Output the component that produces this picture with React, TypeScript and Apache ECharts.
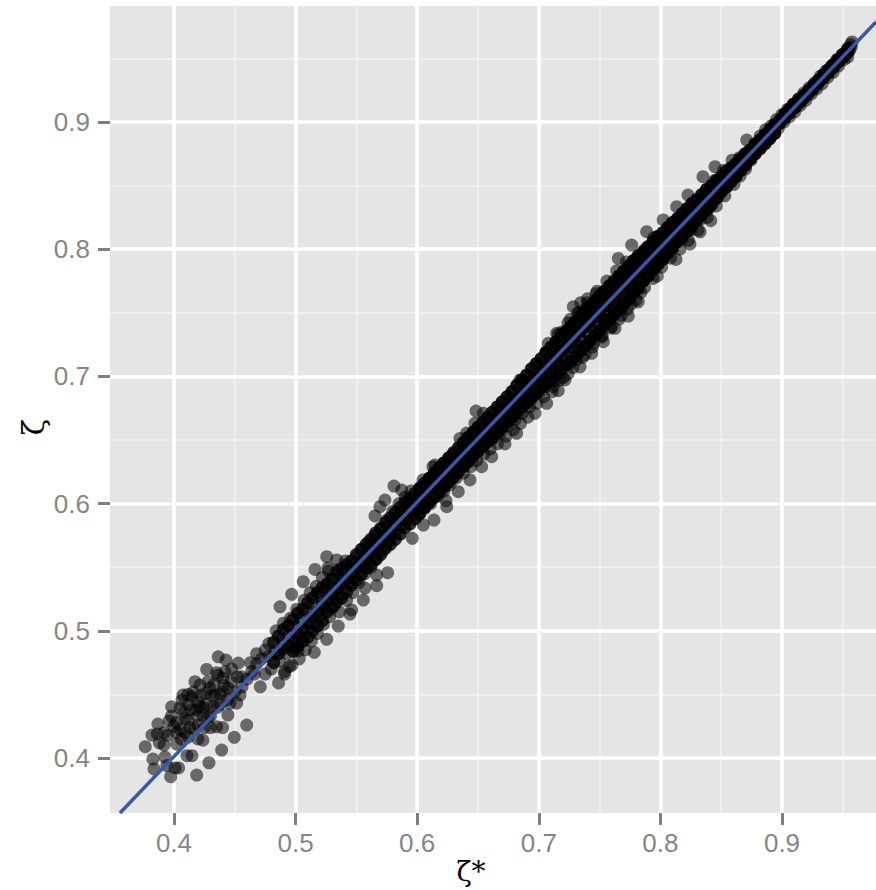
import React, { useEffect, useRef } from "react";
import * as echarts from "echarts";

const tickValues = [0.4, 0.5, 0.6, 0.7, 0.8, 0.9];
const minorXValues = [0.45, 0.55, 0.65, 0.75, 0.85, 0.95];
const minorYValues = [0.45, 0.55, 0.65, 0.75, 0.85, 0.95];
const fitLine = [[0.3556, 0.3568], [0.9773, 0.9786]];

// [x, y] pairs
const tailPoints = [
  [.3764,.4089],[.3827,.3992],[.3836,.3914],[.3973,.3853],[.4187,.3866],[.4288,.3963],[.4392,.4063],[.4496,.4163],[.4598,.4259],
  [.3863,.4189],[.3819,.4181],[.3868,.4267],[.3918,.4102],[.3926,.4008],[.4022,.4199],[.3961,.4293],[.3981,.4403],[.4049,.4393],
  [.4074,.4495],[.4066,.4456],[.4173,.46],[.4214,.4574],[.4269,.4697],[.4351,.4671],[.4364,.4796],[.4428,.477],[.4529,.4747],
  [.4475,.47],[.4557,.4639],[.4403,.4629],[.4296,.455],[.4337,.4495],[.4444,.455],[.4146,.4482],[.4214,.4403],[.4321,.4403],
  [.4115,.4299],[.4238,.4338],[.4351,.4246],[.4444,.4338],[.4516,.4432],[.4543,.4495],[.4107,.4019],[.4148,.4019],[.4038,.3922],
  [.4008,.3922],[.3942,.3941],[.4022,.4110],[.4115,.4165],[.4238,.4140],[.4197,.4150],[.4049,.4226],[.4115,.4500],[.4197,.4440],
  [.4270,.4420],[.4380,.4500],[.4380,.4420],[.4190,.4330],[.4090,.4200],[.4300,.4240],[.4400,.4240],[.4460,.4430],[.4000,.4250],
  [.4140,.4380],[.4260,.4510],[.4170,.4230],[.4300,.4330],[.4410,.4570],[.4090,.4310],[.3880,.4120],[.3950,.4180],
  [.392,.420],[.398,.433],[.402,.428],[.406,.415],[.408,.436],[.412,.442],[.413,.424],[.416,.452],[.418,.438],[.42,.426],[.422,.449],
  [.424,.44],[.425,.424],[.428,.432],[.428,.46],[.431,.449],[.433,.458],[.436,.44],[.436,.465],[.44,.452],[.442,.468],[.444,.446],
  [.447,.46],[.45,.452],[.452,.464],[.456,.456],[.46,.462],[.464,.468],[.468,.474],[.472,.478],[.475,.485],[.478,.48],
];
const lowBand = [
  [.4629,.4750],[.4660,.4660],[.4680,.4820],[.4710,.4560],[.4750,.4660],[.4780,.4900],[.4800,.4700],[.4830,.4830],[.4872,.5189],
  [.4968,.5287],[.5063,.5386],[.5160,.5483],[.5256,.5583],[.5338,.5557],[.5266,.5494],[.5020,.4841],[.5154,.4831],[.5256,.4933],
  [.5351,.5038],[.5447,.5132],[.5461,.5164],[.5557,.5242],[.5571,.5336],[.5667,.5355],[.5667,.5439],[.5757,.5457],[.4910,.4660],
  [.4860,.4590],[.4950,.4720],[.5809,.6138],[.5735,.6028],[.5694,.5976],[.5653,.5903],[.5873,.6107],[.5960,.5727],[.6050,.5832],
  [.4840,.5000],[.4870,.4760],[.4890,.4910],[.4900,.5060],[.4910,.4680],[.4930,.4820],[.4950,.4970],[.4960,.5100],[.4970,.4730],
  [.4990,.4870],[.5000,.5030],[.5010,.5170],[.5030,.4780],[.5040,.4940],[.5050,.5090],[.5070,.5240],[.5080,.4850],[.5090,.5000],
  [.5100,.5150],[.5120,.5300],[.5130,.4920],[.5140,.5070],[.5150,.5200],[.5170,.5350],[.5180,.4980],[.5190,.5120],[.5200,.5270],
  [.5220,.5420],[.5230,.5050],[.5240,.5180],[.5250,.5330],[.5270,.5470],[.5280,.5110],[.5290,.5250],[.5300,.5400],[.5320,.5200],
  [.5330,.5340],[.5350,.5480],[.5360,.5150],[.5380,.5280],[.5390,.5410],[.5410,.5550],[.5420,.5240],[.5440,.5370],[.5450,.5500],
  [.5470,.5300],[.5480,.5430],[.5500,.5580],[.5520,.5380],[.5530,.5500],[.5550,.5640],[.5570,.5450],[.5580,.5560],[.5600,.5700],
  [.5620,.5500],[.5630,.5620],[.5650,.5750],[.5670,.5570],[.5680,.5690],[.5700,.5810],[.5720,.5630],[.5730,.5750],[.5750,.5870],
  [.5770,.5700],[.5780,.5820],[.5800,.5940],[.5820,.5760],[.5830,.5880],[.5850,.6000],[.5870,.5820],[.5880,.5940],[.5900,.6050],
  [.5920,.5880],[.5930,.6000],[.5950,.6100],[.5970,.5940],[.5980,.6050],
];
const midBand = [
  [.6000,.5900],[.6010,.5980],[.6020,.6050],[.6030,.6130],[.6048,.6186],[.6060,.5960],[.6070,.6030],[.6080,.6100],[.6095,.6180],
  [.6110,.6000],[.6120,.6080],[.6130,.6160],[.6130,.6290],[.6138,.5871],[.6146,.6303],[.6155,.6240],[.6170,.6060],[.6180,.6130],
  [.6190,.6210],[.6200,.6290],[.6220,.6100],[.6230,.6180],[.6237,.6023],[.6243,.5976],[.6250,.6270],[.6265,.6340],[.6270,.6150],
  [.6280,.6230],[.6300,.6310],[.6310,.6385],[.6320,.6200],[.6330,.6280],[.6338,.6094],[.6352,.6513],[.6355,.6350],[.6370,.6430],
  [.6380,.6240],[.6390,.6320],[.6407,.6555],[.6410,.6400],[.6420,.6480],[.6434,.6186],[.6440,.6290],[.6450,.6370],[.6460,.6450],
  [.6475,.6631],[.6484,.6728],[.6490,.6340],[.6500,.6420],[.6510,.6500],[.6530,.6290],[.6535,.6570],[.6544,.6710],[.6550,.6390],
  [.6560,.6470],[.6575,.6550],[.6590,.6620],[.6600,.6430],[.6613,.6369],[.6620,.6510],[.6640,.6590],[.6655,.6670],[.6660,.6470],
  [.6680,.6550],[.6700,.6630],[.6715,.6710],[.6722,.6469],[.6730,.6530],[.6745,.6610],[.6760,.6690],[.6775,.6770],[.6790,.6580],
  [.6805,.6660],[.6818,.6553],[.6820,.6740],[.6835,.6820],[.6845,.6972],[.6850,.6630],[.6865,.6710],[.6880,.6790],[.6895,.6870],
  [.6905,.6950],[.6910,.6680],[.6925,.6760],[.6940,.6840],[.6955,.6920],[.6969,.6710],[.6970,.7000],[.6985,.6790],[.7000,.6870],
  [.7015,.6950],[.7030,.7030],[.7045,.7110],[.7060,.7190],[.7065,.6789],[.7078,.7260],[.7040,.6840],[.7055,.6920],[.7070,.7000],
  [.7085,.7080],[.7100,.7160],[.7110,.6880],[.7120,.6960],[.7135,.7040],[.7147,.7339],[.7150,.7120],[.7160,.6888],[.7165,.7200],
  [.7175,.7280],[.7190,.7350],[.7170,.6970],[.7185,.7050],[.7215,.6972],[.7200,.7130],[.7215,.7210],[.7230,.7290],[.7245,.7370],
  [.7260,.7450],[.7284,.7548],[.7240,.7020],[.7255,.7100],[.7270,.7180],[.7285,.7260],[.7300,.7340],[.7315,.7420],[.7330,.7500],
  [.7345,.7580],[.7339,.7076],[.7310,.7130],[.7325,.7210],[.7340,.7290],[.7355,.7370],[.7370,.7450],[.7385,.7530],[.7400,.7610],
  [.7380,.7170],[.7395,.7250],[.7410,.7330],[.7425,.7410],[.7435,.7182],[.7440,.7490],[.7455,.7570],[.7470,.7650],[.7450,.7260],
  [.7465,.7340],[.7480,.7420],[.7495,.7500],[.7510,.7580],[.7525,.7660],[.7531,.7273],[.7520,.7320],[.7535,.7400],[.7550,.7480],
  [.7565,.7560],[.7580,.7640],[.7595,.7720],[.7590,.7380],[.7605,.7460],[.7620,.7540],[.7635,.7620],[.7627,.7378],[.7650,.7700],
  [.7654,.7928],[.7665,.7780],[.7660,.7450],[.7675,.7530],[.7690,.7610],[.7705,.7690],[.7720,.7770],[.7736,.7475],[.7735,.7850],
  [.7730,.7530],[.7745,.7610],[.7760,.7690],[.7764,.8033],[.7775,.7770],[.7790,.7850],[.7805,.7930],[.7800,.7600],[.7818,.7587],
  [.7815,.7680],[.7830,.7760],[.7845,.7840],[.7860,.7920],[.7875,.8000],[.7887,.8138],[.7870,.7700],[.7885,.7780],[.7900,.7860],
  [.7915,.7940],[.7930,.8020],[.7945,.8090],[.7940,.7770],[.7955,.7850],[.7975,.7789],[.7970,.7930],[.7985,.8010],[.8000,.8080],
  [.712,.692],[.72,.699],[.728,.707],[.736,.715],[.744,.723],[.752,.731],[.76,.739],[.768,.748],[.776,.757],[.784,.766],
  [.716,.733],[.724,.742],[.732,.75],[.74,.758],[.748,.767],[.756,.775],[.764,.783],[.772,.79],
];
const highBand = [
  [.8023,.8230],[.8010,.7860],[.8025,.7940],[.8040,.8020],[.8055,.8100],[.8070,.8160],[.8085,.7930],[.8100,.8010],[.8115,.8090],
  [.8128,.7920],[.8134,.8334],[.8130,.8170],[.8145,.8240],[.8160,.8000],[.8175,.8080],[.8190,.8160],[.8205,.8240],[.8220,.8310],
  [.8227,.8426],[.8230,.8070],[.8243,.8041],[.8250,.8150],[.8265,.8230],[.8280,.8300],[.8295,.8370],[.8310,.8150],[.8326,.8137],
  [.8325,.8230],[.8340,.8310],[.8350,.8570],[.8355,.8380],[.8370,.8450],[.8385,.8250],[.8400,.8320],[.8414,.8224],[.8415,.8400],
  [.8430,.8470],[.8449,.8649],[.8445,.8540],[.8460,.8340],[.8475,.8410],[.8490,.8480],[.8505,.8550],[.8520,.8620],[.8530,.8420],
  [.8545,.8490],[.8560,.8560],[.8575,.8630],[.8590,.8700],[.8605,.8510],[.8620,.8580],[.8635,.8650],[.8655,.8575],[.8650,.8720],
  [.8665,.8630],[.8680,.8690],[.8695,.8750],[.8710,.8858],[.8700,.8630],[.8715,.8700],[.8730,.8770],[.8745,.8700],[.8760,.8760],
  [.8775,.8830],[.8790,.8780],[.8805,.8840],[.8820,.8890],[.8835,.8830],[.8850,.8880],[.8865,.8940],[.8880,.8860],[.8895,.8920],
  [.8910,.8970],[.8925,.8910],[.8940,.8960],[.8955,.9020],[.8970,.8950],[.8985,.9000],[.9000,.9060],[.9015,.9000],[.9030,.9050],
  [.9045,.9100],[.9060,.9040],[.9075,.9090],[.9090,.9140],[.9105,.9080],[.9120,.9130],[.9135,.9180],[.9150,.9130],[.9165,.9180],
  [.9180,.9230],[.9195,.9170],[.9210,.9220],[.9225,.9270],[.9240,.9220],[.9255,.9260],[.9270,.9310],[.9285,.9260],[.9300,.9310],
  [.9315,.9360],[.9330,.9300],[.9345,.9350],[.9360,.9400],[.9375,.9350],[.9390,.9390],[.9405,.9440],[.9420,.9390],[.9435,.9440],
  [.9450,.9490],[.9465,.9440],[.9480,.9490],[.9495,.9530],[.9510,.9490],[.9525,.9530],[.9540,.9580],[.9555,.9560],[.9565,.9610],
  [.9576,.9629],[.9540,.9510],[.9570,.9590],
];
// the overplotted core of the band
const coreLow = [
  [.482,.491],[.482,.475],[.486,.496],[.486,.482],[.490,.501],[.490,.486],[.494,.504],[.494,.489],[.498,.509],[.498,.493],[.498,.484],
  [.502,.514],[.502,.497],[.502,.488],[.506,.517],[.506,.502],[.506,.492],[.510,.522],[.510,.506],[.510,.495],[.514,.526],[.514,.511],[.514,.500],
  [.518,.530],[.518,.515],[.518,.504],[.522,.534],[.522,.520],[.522,.508],[.526,.537],[.526,.524],[.526,.515],[.530,.541],[.530,.529],[.530,.518],
  [.534,.546],[.534,.533],[.534,.523],[.538,.549],[.538,.537],[.538,.526],[.542,.552],[.542,.541],[.542,.531],[.546,.555],[.546,.546],[.546,.536],
  [.550,.560],[.550,.550],[.550,.540],[.554,.564],[.554,.554],[.554,.544],[.558,.568],[.558,.559],[.558,.549],[.562,.572],[.562,.562],[.562,.552],
  [.566,.577],[.566,.566],[.566,.556],[.570,.580],[.570,.570],[.570,.560],[.574,.585],[.574,.575],[.574,.565],[.578,.589],[.578,.578],[.578,.568],
  [.582,.593],[.582,.583],[.582,.572],[.586,.597],[.586,.587],[.586,.576],[.590,.601],[.590,.591],[.590,.581],[.594,.604],[.594,.595],[.594,.584],
  [.598,.608],[.598,.599],[.598,.588],
];
const coreMid = [
  [.602,.612],[.602,.603],[.602,.592],[.606,.616],[.606,.607],[.606,.597],[.610,.620],[.610,.611],[.610,.601],[.614,.624],[.614,.615],[.614,.605],
  [.618,.628],[.618,.619],[.618,.609],[.622,.632],[.622,.623],[.622,.613],[.626,.636],[.626,.627],[.626,.617],[.630,.640],[.630,.631],[.630,.621],
  [.634,.644],[.634,.635],[.634,.625],[.638,.648],[.638,.639],[.638,.629],[.642,.652],[.642,.643],[.642,.633],[.646,.656],[.646,.647],[.646,.637],
  [.650,.660],[.650,.651],[.650,.641],[.654,.664],[.654,.655],[.654,.645],[.658,.668],[.658,.659],[.658,.649],[.662,.672],[.662,.663],[.662,.652],
  [.666,.676],[.666,.667],[.666,.656],[.670,.680],[.670,.671],[.670,.660],[.674,.684],[.674,.675],[.674,.664],[.678,.688],[.678,.679],[.678,.668],
  [.682,.693],[.682,.683],[.682,.672],[.686,.697],[.686,.687],[.686,.676],[.690,.701],[.690,.691],[.690,.679],[.694,.706],[.694,.695],[.694,.683],
  [.698,.710],[.698,.699],[.698,.687],[.702,.714],[.702,.703],[.702,.691],[.706,.719],[.706,.707],[.706,.694],[.710,.723],[.710,.711],[.710,.697],
  [.714,.727],[.714,.715],[.714,.701],[.718,.731],[.718,.719],[.718,.705],[.722,.735],[.722,.723],[.722,.709],[.726,.739],[.726,.727],[.726,.712],
  [.730,.743],[.730,.731],[.730,.716],[.734,.747],[.734,.735],[.734,.720],[.738,.751],[.738,.739],[.738,.724],[.742,.755],[.742,.743],[.742,.728],
  [.746,.759],[.746,.747],[.746,.732],[.750,.763],[.750,.751],[.750,.736],[.754,.767],[.754,.755],[.754,.741],[.758,.771],[.758,.759],[.758,.745],
  [.762,.775],[.762,.763],[.762,.749],[.766,.779],[.766,.767],[.766,.753],[.770,.783],[.770,.771],[.770,.757],[.774,.787],[.774,.775],[.774,.761],
  [.778,.791],[.778,.779],[.778,.766],[.782,.795],[.782,.783],[.782,.770],[.786,.798],[.786,.787],[.786,.775],[.790,.802],[.790,.791],[.790,.779],
  [.794,.806],[.794,.795],[.794,.784],[.798,.810],[.798,.799],[.798,.788],
];
const coreHigh = [
  [.802,.813],[.802,.803],[.802,.792],[.806,.817],[.806,.807],[.806,.797],[.810,.821],[.810,.811],[.810,.801],[.814,.824],[.814,.815],[.814,.806],
  [.818,.828],[.818,.819],[.818,.810],[.822,.832],[.822,.823],[.822,.814],[.826,.836],[.826,.827],[.826,.818],[.830,.839],[.830,.831],[.830,.823],
  [.834,.843],[.834,.835],[.834,.827],[.838,.847],[.838,.839],[.838,.831],[.842,.850],[.842,.843],[.842,.835],[.846,.854],[.846,.847],[.846,.840],
  [.850,.857],[.850,.851],[.850,.845],[.854,.861],[.854,.855],[.854,.849],[.858,.864],[.858,.859],[.858,.853],[.862,.867],[.862,.863],[.862,.857],
  [.866,.871],[.866,.867],[.866,.862],[.870,.875],[.870,.871],[.870,.866],[.874,.878],[.874,.875],[.874,.871],[.878,.882],[.878,.879],[.878,.875],
  [.882,.886],[.882,.883],[.882,.879],[.886,.890],[.886,.887],[.886,.883],[.890,.894],[.890,.891],[.890,.887],[.894,.898],[.894,.895],[.894,.891],
  [.898,.901],[.898,.899],[.902,.906],[.902,.903],[.906,.910],[.906,.907],[.910,.914],[.910,.911],[.914,.918],[.914,.915],[.918,.921],[.918,.919],
  [.922,.925],[.922,.923],[.926,.929],[.926,.927],[.930,.933],[.930,.931],[.934,.937],[.934,.935],[.938,.941],[.938,.939],[.942,.945],[.942,.943],
  [.946,.949],[.946,.947],[.950,.953],[.950,.951],[.954,.957],[.954,.955],
];

const points = [
  ...tailPoints, ...lowBand, ...midBand, ...highBand,
  ...coreLow, ...coreLow,
  ...coreMid, ...coreMid, ...coreMid,
  ...coreHigh, ...coreHigh, ...coreHigh,
];

export default function App() {
  const ref = useRef<HTMLDivElement>(null);
  useEffect(() => {
    document.body.style.margin = "0";
    const chart = echarts.init(ref.current!, undefined, { renderer: "svg" });
    const axisBase = (margin: number) => ({
      type: "value",
      splitLine: { show: false },
      axisLine: { show: false },
      axisTick: {
        show: true,
        length: 12,
        customValues: tickValues,
        lineStyle: { color: "#7f7f7f", width: 3 },
      },
      axisLabel: {
        customValues: tickValues,
        color: "#858585",
        fontSize: 26,
        fontFamily: "Liberation Sans",
        margin,
        formatter: (v: number) => v.toFixed(1),
      },
    });
    const grid = (vals: number[], key: string, width: number, color: string) =>
      vals.map((v) => ({
        [key]: v,
        lineStyle: { color, width, type: "solid" },
      }));
    chart.setOption({
      animation: false,
      grid: {
        left: 110, top: 6, width: 766, height: 807,
        show: true, backgroundColor: "#e5e5e5", borderWidth: 0,
      },
      xAxis: { ...axisBase(17), min: 0.3474, max: 0.9773 },
      yAxis: { ...axisBase(20), min: 0.3568, max: 0.9912 },
      series: [
        {
          type: "line", data: [], z: 1, silent: true,
          markLine: {
            z: 1, silent: true, symbol: "none", label: { show: false },
            data: [
              ...grid(minorXValues, "xAxis", 1.5, "#f2f2f2"),
              ...grid(minorYValues, "yAxis", 1.5, "#f2f2f2"),
              ...grid(tickValues, "xAxis", 3.5, "#ffffff"),
              ...grid(tickValues, "yAxis", 3.5, "#ffffff"),
            ],
          },
        },
        {
          type: "scatter", data: points, z: 2, symbolSize: 13,
          itemStyle: { color: "rgba(0,0,0,0.68)" },
        },
        {
          type: "line", data: fitLine, z: 3, symbol: "none", clip: true,
          lineStyle: { color: "#3a58a8", width: 3.5 },
        },
      ],
      graphic: [
        {
          type: "text", x: 471, y: 871,
          style: {
            text: "ζ*", fill: "#000", align: "center", verticalAlign: "middle",
            font: "28px 'DejaVu Serif'",
          },
        },
        {
          type: "text", x: 33, y: 427, rotation: Math.PI / 2,
          style: {
            text: "ζ", fill: "#000", align: "center", verticalAlign: "middle",
            font: "30px 'DejaVu Serif'",
          },
        },
      ],
    });
    return () => chart.dispose();
  }, []);
  return <div ref={ref} style={{ width: 876, height: 890 }} />;
}
